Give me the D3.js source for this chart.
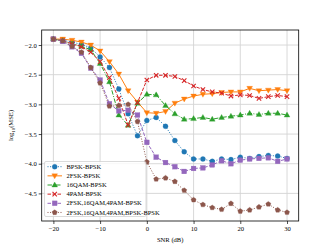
<!DOCTYPE html>
<html>
<head>
<meta charset="utf-8">
<script src="https://cdn.jsdelivr.net/npm/d3@7"></script>
<style>
  body { margin: 0; background: #fff; }
  svg text { font-family: "Liberation Serif", "DejaVu Serif", serif; fill: #000; }
</style>
</head>
<body>
<div id="chart"></div>
<script>
// SNR grid (dB)
let snr = d3.range(-20, 31, 2);

let bpsk = [-1.90, -1.92, -1.95, -1.99, -2.05, -2.20, -2.38, -2.74, -3.16, -3.53, -3.27, -3.22, -3.37,
            -3.61, -3.80, -3.92, -3.92, -3.96, -3.92, -3.93, -3.89, -3.91, -3.88, -3.86, -3.87, -3.91];
let fsk2 = [-1.90, -1.90, -1.92, -1.95, -2.00, -2.10, -2.28, -2.49, -2.77, -2.96, -3.14, -3.15, -3.12,
            -2.98, -2.91, -2.86, -2.83, -2.82, -2.80, -2.79, -2.79, -2.73, -2.77, -2.76, -2.75, -2.77];
let qam16 = [-1.90, -1.93, -1.98, -2.02, -2.08, -2.31, -2.62, -3.18, -3.35, -2.98, -2.83, -2.84, -3.02,
             -3.16, -3.25, -3.24, -3.22, -3.25, -3.22, -3.20, -3.18, -3.15, -3.17, -3.15, -3.15, -3.18];
let pam4 = [-1.90, -1.93, -1.98, -2.03, -2.12, -2.28, -2.55, -2.90, -3.35, -2.97, -2.59, -2.51, -2.51,
            -2.53, -2.60, -2.69, -2.75, -2.79, -2.81, -2.86, -2.84, -2.85, -2.90, -2.87, -2.85, -2.87];
let mix3 = [-1.90, -1.94, -2.03, -2.14, -2.39, -2.59, -2.99, -3.11, -3.10, -3.18, -3.64, -3.89, -3.98,
            -4.05, -4.13, -4.08, -4.07, -4.02, -3.95, -4.00, -3.94, -3.92, -3.91, -3.90, -3.96, -3.92];
let mix4 = [-1.90, -1.93, -2.02, -2.12, -2.38, -2.64, -3.03, -3.02, -3.00, -3.29, -3.97, -4.26, -4.24,
            -4.30, -4.45, -4.61, -4.69, -4.74, -4.77, -4.67, -4.80, -4.78, -4.73, -4.68, -4.78, -4.82];

let seriesNames = ["BPSK-BPSK", "2FSK-BPSK", "16QAM-BPSK", "4PAM-BPSK",
                   "2FSK,16QAM,4PAM-BPSK", "2FSK,16QAM,4PAM,BPSK-BPSK"];
let seriesValues = [bpsk, fsk2, qam16, pam4, mix3, mix4];

let xTicks = [-20, -10, 0, 10, 20, 30];
let yTicks = [-2.0, -2.5, -3.0, -3.5, -4.0, -4.5];

let width = 332, height = 249;
let margin = {left: 41.7, right: 33.3, top: 30, bottom: 28};

let colors = ["#1f77b4", "#ff7f0e", "#2ca02c", "#d62728", "#9467bd", "#8c564b"];
let dashes = ["1,1.6", null, "4.5,1.5,1,1.5", "3.5,1.5", "3.5,1.5", "1,1.6"];
let markers = ["circle", "tridown", "triup", "x", "square", "pentagon"];

let x = d3.scaleLinear().domain([-22.5, 32.5]).range([margin.left, width - margin.right]);
let y = d3.scaleLinear().domain([-4.965, -1.747]).range([height - margin.bottom, margin.top]);

let svg = d3.select("#chart").append("svg")
  .attr("width", width)
  .attr("height", height);

// grid
let grid = svg.append("g").attr("stroke", "#d4d4d4").attr("stroke-width", 0.9);
grid.selectAll("line.gx").data(xTicks).enter().append("line")
  .attr("x1", d => x(d)).attr("x2", d => x(d))
  .attr("y1", margin.top).attr("y2", height - margin.bottom);
grid.selectAll("line.gy").data(yTicks).enter().append("line")
  .attr("y1", d => y(d)).attr("y2", d => y(d))
  .attr("x1", margin.left).attr("x2", width - margin.right);

let fmtMinus = s => s.replace("-", "\u2212");

let xAxis = svg.append("g")
  .attr("transform", `translate(0,${height - margin.bottom})`)
  .call(d3.axisBottom(x).tickValues(xTicks).tickSize(3).tickPadding(2)
    .tickFormat(d => fmtMinus(d3.format("d")(d))));
let yAxis = svg.append("g")
  .attr("transform", `translate(${margin.left},0)`)
  .call(d3.axisLeft(y).tickValues(yTicks).tickSize(3).tickPadding(2)
    .tickFormat(d => fmtMinus(d3.format(".1f")(d))));
[xAxis, yAxis].forEach(a => {
  a.select(".domain").remove();
  a.selectAll("line").attr("stroke", "#000").attr("stroke-width", 0.7);
  a.selectAll("text").attr("font-size", 6.6).attr("font-family", "Liberation Serif");
});

// markers
function pentagonPath(r) {
  let pts = d3.range(5).map(i => {
    let a = -Math.PI / 2 + i * 2 * Math.PI / 5;
    return [r * Math.cos(a), r * Math.sin(a)];
  });
  return "M" + pts.map(p => p.join(",")).join("L") + "Z";
}

function drawMarker(g, kind, cx, cy, color) {
  let sel;
  if (kind === "circle") {
    sel = g.append("circle").attr("cx", cx).attr("cy", cy).attr("r", 2.5);
  } else if (kind === "square") {
    sel = g.append("rect").attr("x", cx - 2.4).attr("y", cy - 2.4).attr("width", 4.8).attr("height", 4.8);
  } else if (kind === "triup") {
    sel = g.append("path").attr("d", `M${cx},${cy - 3}L${cx + 2.9},${cy + 2}L${cx - 2.9},${cy + 2}Z`);
  } else if (kind === "tridown") {
    sel = g.append("path").attr("d", `M${cx},${cy + 3}L${cx + 2.9},${cy - 2}L${cx - 2.9},${cy - 2}Z`);
  } else if (kind === "pentagon") {
    sel = g.append("path").attr("transform", `translate(${cx},${cy})`).attr("d", pentagonPath(2.7));
  } else if (kind === "x") {
    let s = 2.2;
    g.append("path")
      .attr("d", `M${cx - s},${cy - s}L${cx + s},${cy + s}M${cx - s},${cy + s}L${cx + s},${cy - s}`)
      .attr("stroke", color).attr("stroke-width", 1.1).attr("fill", "none");
    return;
  }
  sel.attr("fill", color).attr("stroke", color).attr("stroke-width", 0.3);
}

let line = d3.line().x(d => x(d[0])).y(d => y(d[1]));

let plot = svg.append("g");
seriesValues.forEach((vals, i) => {
  let pts = snr.map((s, j) => [s, vals[j]]);
  let g = plot.append("g");
  g.append("path")
    .datum(pts)
    .attr("d", line)
    .attr("fill", "none")
    .attr("stroke", colors[i])
    .attr("stroke-width", 1)
    .attr("stroke-dasharray", dashes[i]);
  pts.forEach(p => drawMarker(g, markers[i], x(p[0]), y(p[1]), colors[i]));
});

// frame
svg.append("rect")
  .attr("x", margin.left).attr("y", margin.top)
  .attr("width", width - margin.left - margin.right)
  .attr("height", height - margin.top - margin.bottom)
  .attr("fill", "none").attr("stroke", "#000").attr("stroke-width", 0.8);

// legend
let lg = svg.append("g").attr("transform", "translate(44.5,161.5)");
lg.append("rect")
  .attr("width", 101.5).attr("height", 55)
  .attr("rx", 1.5)
  .attr("fill", "#fff").attr("fill-opacity", 0.8)
  .attr("stroke", "#cccccc").attr("stroke-width", 0.7);
seriesNames.forEach((name, i) => {
  let ry = 5.2 + i * 9.15;
  lg.append("line")
    .attr("x1", 3).attr("x2", 17.5).attr("y1", ry).attr("y2", ry)
    .attr("stroke", colors[i]).attr("stroke-width", 1)
    .attr("stroke-dasharray", dashes[i]);
  drawMarker(lg, markers[i], 10.2, ry, colors[i]);
  lg.append("text")
    .attr("x", 22).attr("y", ry)
    .attr("dy", "0.33em")
    .attr("font-size", 6.5)
    .text(name);
});

// axis labels
svg.append("text")
  .attr("x", (margin.left + width - margin.right) / 2)
  .attr("y", 242)
  .attr("text-anchor", "middle")
  .attr("font-size", 6.6)
  .text("SNR (dB)");

let yl = svg.append("text")
  .attr("transform", `translate(13,${(margin.top + height - margin.bottom) / 2}) rotate(-90)`)
  .attr("text-anchor", "middle")
  .attr("font-size", 6.6);
yl.append("tspan").text("log");
yl.append("tspan").attr("font-size", 4.8).attr("dy", 1.6).text("10");
yl.append("tspan").attr("dy", -1.6).text("(MSE)");
</script>
</body>
</html>
